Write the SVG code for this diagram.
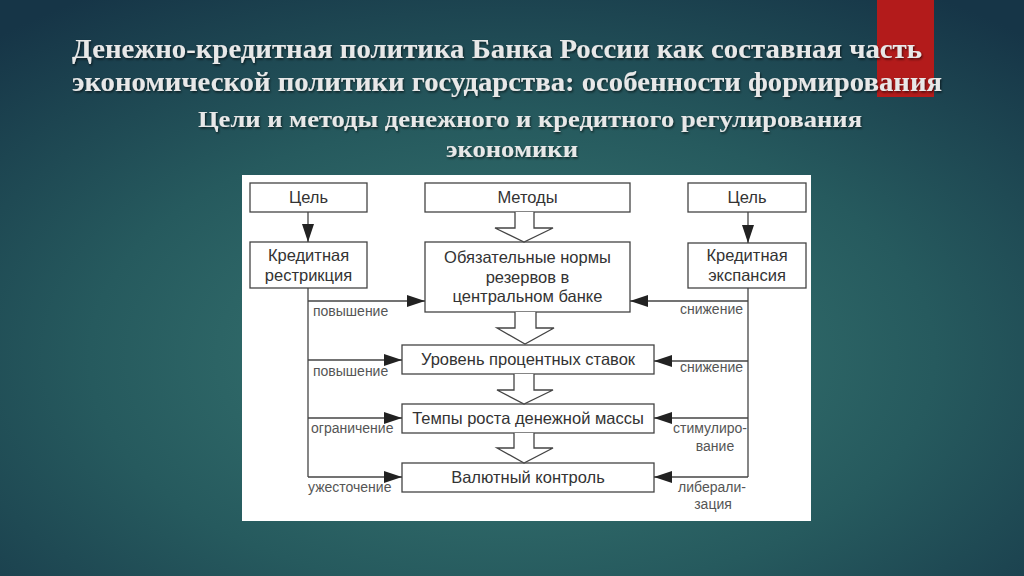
<svg xmlns="http://www.w3.org/2000/svg" width="1024" height="576" viewBox="0 0 1024 576">
<defs>
<radialGradient id="bg" cx="0.5" cy="0.62" r="0.75">
<stop offset="0" stop-color="#3a7b75"/>
<stop offset="0.55" stop-color="#265a5e"/>
<stop offset="1" stop-color="#163547"/>
</radialGradient>
<filter id="sh" x="-5%" y="-20%" width="110%" height="140%">
<feDropShadow dx="1" dy="1.5" stdDeviation="1" flood-color="#000" flood-opacity="0.6"/>
</filter>
<marker id="ah" viewBox="0 0 18 12" refX="18" refY="6" markerWidth="18" markerHeight="12" markerUnits="userSpaceOnUse" orient="auto">
<path d="M0,0 L18,6 L0,12 z" fill="#222"/>
</marker>
<style>
.title{font-family:"Liberation Serif","Times New Roman",serif;font-weight:bold;fill:#e8e8e8}
.box{fill:#fff;stroke:#444;stroke-width:1.3}
.bt{font-family:"Liberation Sans",Arial,sans-serif;font-size:16.5px;fill:#333;text-anchor:middle}
.lb{font-family:"Liberation Sans",Arial,sans-serif;font-size:14px;fill:#555}
.ln{fill:none;stroke:#444;stroke-width:1.3}
.ba{fill:#fff;stroke:#444;stroke-width:1.3;stroke-linejoin:miter}
</style>
</defs>
<rect x="0" y="0" width="1024" height="576" fill="url(#bg)"/>
<rect x="877" y="0" width="57" height="97" fill="#b31b1b"/>
<g id="title" filter="url(#sh)">
<text class="title" x="72" y="58" font-size="28" textLength="850" lengthAdjust="spacingAndGlyphs">Денежно-кредитная политика Банка России как составная часть</text>
<text class="title" x="72" y="91" font-size="28" textLength="870" lengthAdjust="spacingAndGlyphs">экономической политики государства: особенности формирования</text>
<text class="title" x="198" y="127" font-size="23" textLength="664" lengthAdjust="spacingAndGlyphs">Цели и методы денежного и кредитного регулирования</text>
<text class="title" x="446" y="157" font-size="23" textLength="132" lengthAdjust="spacingAndGlyphs">экономики</text>
</g>
<rect x="242" y="175" width="569" height="346" fill="#fff"/>
<g id="goal-left"><rect class="box" x="250" y="183" width="117" height="29"/><text class="bt" x="308.5" y="203">Цель</text></g>
<g id="methods"><rect class="box" x="425" y="183" width="205" height="29"/><text class="bt" x="527.5" y="203">Методы</text></g>
<g id="goal-right"><rect class="box" x="688" y="183" width="118" height="29"/><text class="bt" x="747" y="203">Цель</text></g>
<g id="restriction"><rect class="box" x="250" y="242" width="117" height="46"/><text class="bt" x="308.5" y="261">Кредитная</text><text class="bt" x="308.5" y="281">рестрикция</text></g>
<g id="expansion"><rect class="box" x="688" y="243" width="118" height="45"/><text class="bt" x="747" y="261">Кредитная</text><text class="bt" x="747" y="281">экспансия</text></g>
<g id="reserves"><rect class="box" x="425" y="242" width="205" height="70"/><text class="bt" x="527.5" y="263">Обязательные нормы</text><text class="bt" x="527.5" y="283">резервов в</text><text class="bt" x="527.5" y="302">центральном банке</text></g>
<g id="rates"><rect class="box" x="402" y="345" width="252" height="29"/><text class="bt" x="528" y="365">Уровень процентных ставок</text></g>
<g id="money"><rect class="box" x="402" y="404" width="252" height="29"/><text class="bt" x="528" y="424">Темпы роста денежной массы</text></g>
<g id="currency"><rect class="box" x="402" y="463" width="252" height="29"/><text class="bt" x="528" y="483">Валютный контроль</text></g>
<g id="connectors">
<path class="ba" d="M515,212 L515,228 L495,228 L524,242 L553,228 L534,228 L534,212"/>
<path class="ba" d="M515,312 L515,328 L497,328 L525,344 L554,328 L536,328 L536,312"/>
<path class="ba" d="M514,374 L514,390 L497,390 L524,404 L553,390 L534,390 L534,374"/>
<path class="ba" d="M514,433 L514,448 L497,448 L524,463 L553,448 L534,448 L534,433"/>
<path class="ln" d="M308,212 L308,242" marker-end="url(#ah)"/>
<path class="ln" d="M748,212 L748,243" marker-end="url(#ah)"/>
<path class="ln" d="M308,288 L308,477"/>
<path class="ln" d="M308,301 L425,301" marker-end="url(#ah)"/>
<path class="ln" d="M308,360 L402,360" marker-end="url(#ah)"/>
<path class="ln" d="M308,418 L402,418" marker-end="url(#ah)"/>
<path class="ln" d="M308,477 L402,477" marker-end="url(#ah)"/>
<path class="ln" d="M748,288 L748,477"/>
<path class="ln" d="M748,301 L630,301" marker-end="url(#ah)"/>
<path class="ln" d="M748,361 L654,361" marker-end="url(#ah)"/>
<path class="ln" d="M748,418 L654,418" marker-end="url(#ah)"/>
<path class="ln" d="M748,477 L654,477" marker-end="url(#ah)"/>
<text class="lb" x="313" y="316">повышение</text>
<text class="lb" x="313" y="376">повышение</text>
<text class="lb" x="311" y="433">ограничение</text>
<text class="lb" x="308" y="492">ужесточение</text>
<text class="lb" x="743" y="314" text-anchor="end">снижение</text>
<text class="lb" x="743" y="372" text-anchor="end">снижение</text>
<text class="lb" x="710" y="433" text-anchor="middle">стимулиро-</text>
<text class="lb" x="715" y="451" text-anchor="middle">вание</text>
<text class="lb" x="712" y="492" text-anchor="middle">либерали-</text>
<text class="lb" x="713" y="509" text-anchor="middle">зация</text>
</g>
</svg>
